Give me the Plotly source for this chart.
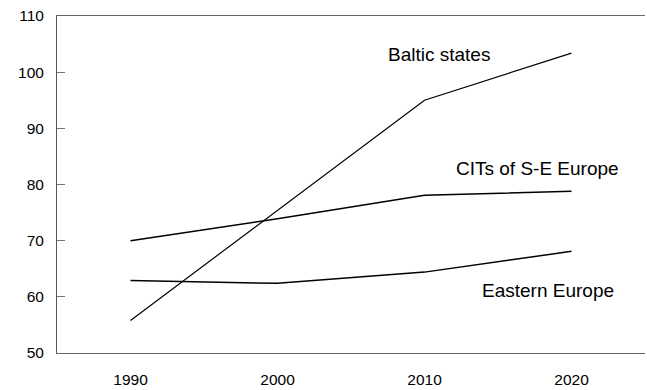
import plotly.graph_objects as go

years = [1990, 2000, 2010, 2020]
baltic = [55.8, 75.4, 95.0, 103.4]
cits_se = [70.0, 73.9, 78.1, 78.8]
eastern = [62.9, 62.4, 64.4, 68.1]

series_names = ["Baltic states", "CITs of S-E Europe", "Eastern Europe"]
label_x = [2011.0, 2017.7, 2018.4]
label_y = [103.1, 82.8, 61.1]

FONT = "Liberation Sans, Arial, Helvetica, sans-serif"

fig = go.Figure()
for name, vals, w in zip(series_names, [baltic, cits_se, eastern], [1.2, 1.5, 1.5]):
    fig.add_trace(go.Scatter(
        x=years, y=vals, mode="lines", name=name,
        line=dict(color="#000000", width=w),
        showlegend=False,
    ))

for name, lx, ly in zip(series_names, label_x, label_y):
    fig.add_annotation(
        x=lx, y=ly, text=name, showarrow=False,
        font=dict(family=FONT, size=19, color="#000000"),
        xanchor="center", yanchor="middle",
    )

fig.update_layout(
    width=647, height=390,
    paper_bgcolor="white", plot_bgcolor="white",
    margin=dict(l=57, r=2, t=16, b=34),
    font=dict(family=FONT, size=15.5, color="#000000"),
    xaxis=dict(
        range=[1985, 2025], tickvals=years, ticktext=[str(y) for y in years],
        showgrid=False, zeroline=False,
        showline=True, linecolor="#666666", linewidth=1, mirror=True,
        ticks="", ticklabelstandoff=12,
    ),
    yaxis=dict(
        range=[50, 110], dtick=10,
        showgrid=False, zeroline=False,
        showline=True, linecolor="#555555", linewidth=1,
        ticks="inside", ticklen=8, tickcolor="#777777",
        ticklabelstandoff=9,
    ),
)

# page body has a default margin; drop it so the chart fills the window
fig.write_html(
    "out.html",
    config={"displayModeBar": False},
    post_script="document.body.style.margin='0';",
)
